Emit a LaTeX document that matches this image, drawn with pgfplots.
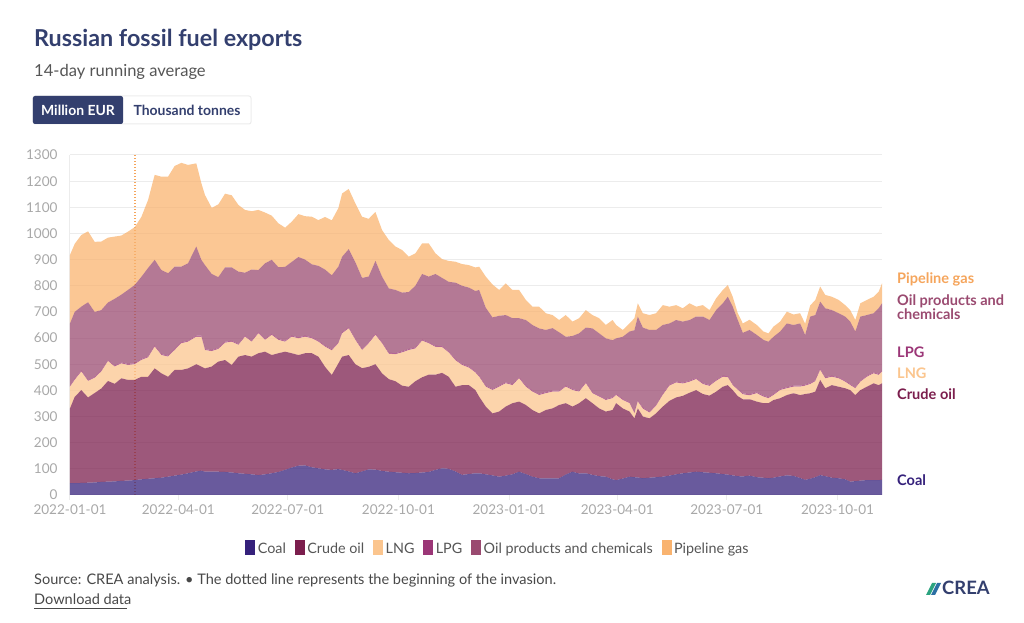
\documentclass[border=0pt]{standalone}
\usepackage{pgfplots}
\pgfplotsset{compat=1.18}
\usepackage{pgfplotstable}
\usepackage{fontspec}
\setmainfont{Lato}
\definecolor{titlec}{HTML}{333F6E}
\definecolor{subc}{HTML}{555555}
\definecolor{tickc}{HTML}{A8A8A8}
\definecolor{gridc}{HTML}{ECECEC}
\definecolor{coal}{HTML}{35217B}
\definecolor{crude}{HTML}{7B1E4D}
\definecolor{lng}{HTML}{FBC58E}
\definecolor{lpg}{HTML}{9B3677}
\definecolor{oilp}{HTML}{9A4A70}
\definecolor{pipe}{HTML}{F9B36F}
\definecolor{pipelab}{HTML}{F5A55C}
\definecolor{legtext}{HTML}{555555}
\definecolor{logog}{HTML}{2BA37F}
\definecolor{logob}{HTML}{2B6FA3}

\pgfplotstableread{
day coal crude lng lpg oil pipe
0 45 286 83 4 238 262
3.9 45 330 65 4 256 260
9.4 46 355 71 4 244 274
15.0 47 326 63 4 297 271
20.5 48 342 58 4 248 268
26.0 50 357 65 4 231 262
31.6 51 385 76 4 220 248
37.1 52 373 66 4 255 238
42.7 54 392 57 4 259 226
48.2 55 385 57 4 283 223
53.8 57 383 60 4 299 221
59.3 60 392 64 4 314 229
64.9 62 390 74 4 338 260
70.4 64 420 83 4 328 325
76.0 66 399 70 4 321 357
81.5 70 382 77 4 315 369
87.0 74 404 76 4 315 385
92.6 78 400 102 4 289 397
98.1 83 401 102 4 296 376
105.0 90 410 105 4 341 318
109.2 93 398 114 4 290 293
112.2 89 395 70 4 321 268
117.8 89 402 59 4 291 253
123.3 89 421 48 4 271 278
128.9 88 428 66 4 284 282
134.4 86 411 89 4 280 276
140.0 83 446 45 4 276 255
145.5 81 454 70 4 241 240
151.0 79 450 57 4 272 223
156.6 76 466 76 4 238 230
162.1 79 469 45 4 289 194
167.7 83 452 77 4 283 169
173.2 88 454 51 4 274 168
178.8 96 452 38 4 282 150
184.3 105 437 63 4 282 154
189.9 112 423 64 4 307 164
195.4 113 429 63 4 291 166
201.0 106 436 57 4 279 182
206.5 102 427 57 4 286 175
212.0 98 392 77 4 291 201
217.6 96 363 94 4 283 210
223.1 99 404 77 4 289 224
226.2 96 433 89 4 289 242
231.7 90 445 102 4 299 230
237.2 83 417 93 4 293 225
242.8 90 395 69 4 272 234
248.3 98 392 90 4 251 221
253.9 97 403 112 4 279 187
259.4 92 373 115 4 251 178
265.0 89 354 97 4 246 185
270.5 87 348 103 4 242 166
276.0 85 333 127 4 225 163
281.6 83 331 140 4 218 135
287.1 84 351 125 4 236 124
292.7 86 364 140 4 251 117
298.2 88 372 120 4 251 127
303.8 96 364 106 4 275 79
309.3 102 365 98 4 261 72
314.8 100 352 93 4 266 80
320.4 90 324 101 4 293 80
325.9 77 343 77 4 299 83
331.5 80 340 67 4 302 86
337.0 83 318 67 4 308 90
340.1 83 293 76 4 328 89
345.6 79 259 76 4 298 119
351.2 75 237 89 4 274 126
356.7 70 249 95 4 267 99
362.2 74 264 89 4 257 121
367.8 79 272 69 4 252 108
373.3 89 268 89 4 226 108
378.9 80 264 70 4 251 77
384.4 70 255 70 4 251 70
390.0 64 248 70 4 251 83
395.5 64 261 64 4 238 64
401.1 64 267 64 4 239 50
406.6 64 280 51 4 223 47
412.1 78 273 63 4 187 83
417.7 89 249 63 4 203 55
423.2 82 269 44 4 219 58
428.8 83 287 57 4 209 67
434.3 77 274 38 4 244 51
439.9 72 259 45 4 238 58
445.4 70 249 44 4 232 51
451.0 60 265 45 4 218 77
454.0 57 294 31 4 213 51
459.5 63 268 32 4 238 26
465.1 70 249 32 4 270 31
469.2 68 225 19 4 314 46
472.0 67 264 26 4 321 51
476.2 64 236 30 4 306 55
481.7 66 227 22 4 312 57
487.2 68 244 29 4 286 64
492.8 70 268 45 4 263 76
498.3 74 286 58 4 234 64
503.9 79 294 57 4 235 57
509.4 83 296 47 4 233 51
515.0 86 305 42 4 232 64
520.5 89 312 42 4 235 38
526.1 87 299 38 4 254 44
531.6 85 295 37 4 248 38
537.1 83 312 41 4 267 45
542.7 80 334 38 4 277 51
546.8 78 342 30 4 304 45
550.9 75 326 19 4 296 38
555.1 72 306 24 4 263 26
559.3 71 295 19 4 231 36
564.9 74 292 15 4 246 39
570.9 68 289 32 4 219 38
576.5 66 285 25 4 213 32
580.6 64 287 19 4 212 32
584.8 66 297 19 4 219 39
590.3 71 299 31 4 220 38
595.9 75 307 26 4 244 45
601.4 73 316 25 4 232 40
606.9 65 317 32 4 238 39
611.1 58 328 32 4 190 43
615.3 62 327 35 4 254 43
619.5 68 327 40 4 249 57
623.6 76 364 38 4 257 58
627.8 72 336 38 4 264 51
633.3 66 354 32 4 251 51
638.9 64 350 32 4 245 51
644.4 60 348 25 4 245 44
648.6 51 350 19 4 239 44
652.8 53 329 26 4 213 44
657.0 55 346 32 4 245 51
662.5 57 357 38 4 232 58
668.0 57 370 38 4 226 63
672.2 57 363 39 4 251 63
675.0 58 369 45 4 257 76
}\data

\begin{document}
\begin{tikzpicture}[x=1bp,y=1bp]
\begin{axis}[
  scale only axis, width=812bp, height=340bp,
  xmin=0, xmax=675, ymin=0, ymax=1300,
  stack plots=y,
  axis x line*=bottom, axis y line*=left,
  axis line style={draw=gridc, line width=1bp},
  ymajorgrids, grid style={draw=gridc, line width=1bp},
  ytick={0,100,...,1300},
  xtick={0,90,181,273,365,455,546,638},
  xticklabels={2022-01-01,2022-04-01,2022-07-01,2022-10-01,2023-01-01,2023-04-01,2023-07-01,2023-10-01},
  tick style={draw=gridc, line width=1bp},
  ytick style={draw=none},
  tick align=outside, major tick length=5bp,
  ticklabel style={font=\fontsize{13.6}{15}\selectfont, text=tickc},
  /pgf/number format/assume math mode=true,
  /pgf/number format/1000 sep={},
  yticklabel style={xshift=-4bp},
  xticklabel style={yshift=-1bp},
  every axis plot/.append style={draw=none, fill opacity=0.74},
  clip=false,
]
\coordinate (O) at (rel axis cs:0,0);
\addplot[fill=coal] table[x=day,y=coal]{\data} \closedcycle;
\addplot[fill=crude] table[x=day,y=crude]{\data} \closedcycle;
\addplot[fill=lng] table[x=day,y=lng]{\data} \closedcycle;
\addplot[fill=lpg] table[x=day,y=lpg]{\data} \closedcycle;
\addplot[fill=oilp] table[x=day,y=oil]{\data} \closedcycle;
\addplot[fill=pipe] table[x=day,y=pipe]{\data} \closedcycle;
\draw[draw=pipelab, line width=1.1bp, dash pattern=on 1.1bp off 1.9bp] (axis cs:54,0) -- (axis cs:54,1300);
\end{axis}

\begin{scope}[shift={(O)}]
\begin{scope}[shift={(-70,-128)}]
\path (0,0) rectangle (1024,623);
% title block
\node[anchor=base west, inner sep=0, font=\bfseries\fontsize{23.4}{27}\selectfont, text=titlec] at (34,576) {Russian fossil fuel exports};
\node[anchor=base west, inner sep=0, font=\fontsize{16.6}{19}\selectfont, text=subc] at (34,546) {14-day running average};
% buttons
\draw[draw=gridc, line width=1bp, fill=white, rounded corners=2bp] (33,499) rectangle (251,527);
\fill[titlec, rounded corners=2bp] (33,499) rectangle (123,527);
\node[inner sep=0, font=\bfseries\fontsize{14}{16}\selectfont, text=white] at (78,513) {Million EUR};
\node[inner sep=0, font=\bfseries\fontsize{14}{16}\selectfont, text=titlec] at (187,513) {Thousand tonnes};

% right labels
\begin{scope}[every node/.style={anchor=west, inner sep=0, font=\bfseries\fontsize{14.6}{15}\selectfont, align=left}]
\node[text=pipelab] at (897,344) {Pipeline gas};
\node[text=oilp] at (897,316) {Oil products and\\[-1bp]chemicals};
\node[text=lpg] at (897,271) {LPG};
\node[text=lng] at (897,250) {LNG};
\node[text=crude] at (897,229) {Crude oil};
\node[text=coal] at (897,143) {Coal};
\end{scope}

% legend
\node[inner sep=0, font=\fontsize{14.4}{16}\selectfont, text=legtext] at (497,75) {%
{\color{coal}\rule[-2bp]{10bp}{15bp}}\,Coal\hspace{9bp}%
{\color{crude}\rule[-2bp]{10bp}{15bp}}\,Crude oil\hspace{9bp}%
{\color{lng}\rule[-2bp]{10bp}{15bp}}\,LNG\hspace{9bp}%
{\color{lpg}\rule[-2bp]{10bp}{15bp}}\,LPG\hspace{9bp}%
{\color{oilp}\rule[-2bp]{10bp}{15bp}}\,Oil products and chemicals\hspace{9bp}%
{\color{pipe}\rule[-2bp]{10bp}{15bp}}\,Pipeline gas};

% source
\node[anchor=base west, inner sep=0, font=\fontsize{14.6}{16}\selectfont, text=subc!85!black] at (34,38) {Source: CREA analysis. \textbullet\ The dotted line represents the beginning of the invasion.};
\node[anchor=base west, inner sep=0, font=\fontsize{14.6}{16}\selectfont, text=subc!85!black] at (34,18) {Download data};
\draw[subc!85!black, line width=0.7bp] (34,15) -- (127,15);

% logo
\fill[logog] (926,28) -- (932,40) -- (936,40) -- (930,28) -- cycle;
\fill[logob] (931,28) -- (937,40) -- (941,40) -- (935,28) -- cycle;
\node[anchor=west, inner sep=0, font=\bfseries\fontsize{18.5}{20}\selectfont, text=titlec] at (942,35) {CREA};
\end{scope}
\end{scope}
\end{tikzpicture}
\end{document}
